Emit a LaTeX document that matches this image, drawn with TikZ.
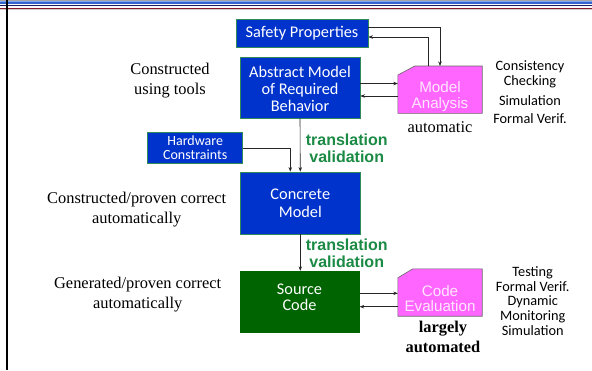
\documentclass[tikz,border=0pt]{standalone}
\usepackage{fontspec}
\setmainfont{Liberation Serif}
\newfontfamily\calfont{Carlito}
\newfontfamily\arifont{Liberation Sans}
\usetikzlibrary{arrows.meta,backgrounds}
\definecolor{boxblue}{HTML}{0033CC}
\definecolor{boxedge}{HTML}{2E8B57}
\definecolor{srcgreen}{HTML}{006400}
\definecolor{pinkbox}{HTML}{FF66FF}
\definecolor{pinktext}{HTML}{FFE6FF}
\definecolor{tvgreen}{HTML}{1B8A45}
\definecolor{stripeblue}{HTML}{3366CC}
\definecolor{stripelight}{HTML}{7FA6F0}
\definecolor{stripenavy}{HTML}{1A1A5E}
\definecolor{stripered}{HTML}{8B1A2A}
\newcommand{\lowered}[2]{\raisebox{-#1}[0pt][0pt]{\begin{tabular}{@{}c@{}}#2\end{tabular}}}
\tikzset{
  bluebox/.style={draw=boxedge, line width=0.8pt, fill=boxblue, text=white, font=\calfont\fontsize{16.3}{17.8}\selectfont, align=center, inner sep=0pt},
  srcbox/.style={fill=srcgreen, text=white, font=\calfont\fontsize{16.3}{17.8}\selectfont, align=center, inner sep=0pt},
  pinkbase/.style={rectangle, text=pinktext, font=\arifont\fontsize{15.2}{17.3}\selectfont, align=center, inner sep=0pt, minimum width=84pt, minimum height=47pt},
  pinkfill/.style={draw=gray!80!black, line width=0.6pt, fill=pinkbox},
  serifnote/.style={font=\fontsize{16.4}{20}\selectfont, align=center, inner sep=0pt},
  sidenote/.style={font=\calfont\fontsize{14.3}{14.8}\selectfont, align=center, inner sep=0pt},
  tvnote/.style={text=tvgreen, font=\arifont\bfseries\fontsize{16}{17}\selectfont, align=center, inner sep=0pt},
  conn/.style={draw=black!85, line width=0.6pt, -{Stealth[length=4.5pt,width=3.5pt]}}
}
\begin{document}
\begin{tikzpicture}[x=1pt,y=-1pt]
\useasboundingbox (0,0) rectangle (592,370);
% top stripes and left rule
\fill[gray!70] (0,0) rectangle (592,0.8);
\fill[stripelight] (0,0.8) rectangle (592,1.5);
\fill[stripeblue] (0,1.5) rectangle (592,4.3);
\fill[stripenavy] (0,5.3) rectangle (592,6.4);
\fill[stripered] (0,7.7) rectangle (592,9.4);
\fill[gray!40] (0,9.4) rectangle (592,9.9);
\draw[black, line width=2pt] (7.3,0) -- (7.3,370);

% main boxes
\node[bluebox, minimum width=132pt, minimum height=28pt] (safety) at (302,33) {Safety Properties};
\node[bluebox, minimum width=120pt, minimum height=61pt] (abstract) at (300,87.5) {\lowered{8pt}{Abstract Model\\[-1pt]of Required\\[-1pt]Behavior}};
\node[bluebox, minimum width=95pt, minimum height=31pt, font=\calfont\fontsize{14}{13.4}\selectfont] (hardware) at (195.2,147.8) {Hardware\\Constraints};
\node[bluebox, minimum width=119.5pt, minimum height=62pt] (concrete) at (300.3,203) {Concrete\\Model};
\node[srcbox, minimum width=120pt, minimum height=62pt] (source) at (299.5,302) {\lowered{1pt}{Source\\[-2pt]Code}};
\node[pinkbase] (analysis) at (440,89.7) {\lowered{11pt}{Model\\[-2pt]Analysis}};
\node[pinkbase] (codeeval) at (440,292.5) {\lowered{11.5pt}{Code\\[-2pt]Evaluation}};
\begin{scope}[on background layer]
  \path[pinkfill] (analysis.south west) -- ([yshift=-9pt]analysis.north west) -- ([xshift=17pt]analysis.north west) -- (analysis.north east) -- (analysis.south east) -- cycle;
  \path[pinkfill] (codeeval.south west) -- ([yshift=-9pt]codeeval.north west) -- ([xshift=15pt]codeeval.north west) -- (codeeval.north east) -- (codeeval.south east) -- cycle;
\end{scope}

% notes
\node[serifnote] (n1) at (170,81) {Constructed\\using tools};
\node[serifnote] (n2) at (136.7,210) {Constructed/proven correct\\automatically};
\node[serifnote] (n3) at (137.7,295) {Generated/proven correct\\automatically};
\node[serifnote] (auto) at (440,127) {automatic};
\node[serifnote, font=\bfseries\fontsize{16.4}{20}\selectfont] (largely) at (443,336.7) {largely\\automated};
\node[sidenote] (cc) at (530,74.5) {Consistency\\Checking};
\node[sidenote] (sim) at (530,101) {Simulation};
\node[sidenote] (fv) at (530,119) {Formal Verif.};
\node[sidenote] (tests) at (532.7,301) {Testing\\Formal Verif.\\Dynamic\\Monitoring\\Simulation};
\node[tvnote] (tv1) at (346.7,148.5) {translation\\validation};
\node[tvnote] (tv2) at (346.7,253.3) {translation\\validation};

% connectors
\draw[conn] ([yshift=6pt]safety.east) -| (analysis.north);
\draw[conn] ([xshift=-12pt]analysis.north) |- ([yshift=-4pt]safety.east);
\draw[conn] ([yshift=4pt]abstract.east) -- ([yshift=4pt]abstract.east -| analysis.west);
\draw[conn] ([yshift=-8.5pt]abstract.east -| analysis.west) -- ([yshift=-8.5pt]abstract.east);
\draw[conn] (abstract.south) -- (concrete.north);
\draw[conn] (hardware.east) -| ([xshift=-10pt]concrete.north);
\draw[conn] (concrete.south) -- (concrete.south |- source.north);
\draw[conn] ([yshift=8.7pt]source.east) -- ([yshift=8.7pt]source.east -| codeeval.west);
\draw[conn] ([yshift=-4.7pt]source.east -| codeeval.west) -- ([yshift=-4.7pt]source.east);
\end{tikzpicture}
\end{document}
